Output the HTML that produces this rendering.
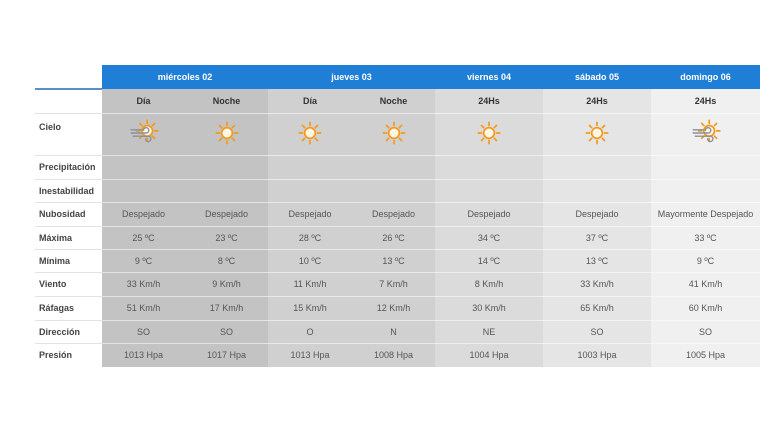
<!DOCTYPE html>
<html><head><meta charset="utf-8"><style>
body{margin:0;width:770px;height:433px;background:#fff;position:relative;overflow:hidden;font-family:"Liberation Sans","DejaVu Sans",sans-serif}
table{position:absolute;left:35px;top:65px;border-collapse:collapse;table-layout:fixed}
td{padding:0;text-align:center;font-size:9px;color:#555;border-bottom:1px solid rgba(255,255,255,.55)}
td.l{text-align:left;padding-left:4px;font-weight:bold;color:#444;background:#fff;border-bottom:1px solid #e2e2e2;font-size:9px}
tr.h td{background:#1f7fd6;color:#fff;font-weight:bold;font-size:9px;border:none}
tr.h td.e{background:#fff;border-bottom:2px solid #5b8fc7}
tr.s td{font-weight:bold;color:#333}
.a{background:#c3c3c3}.b{background:#d0d0d0}.c{background:#dbdbdb}.d{background:#e5e5e5}.f{background:#f0f0f0}
</style></head><body>
<svg width="0" height="0" style="position:absolute"><defs>
<g id="sun"><g stroke="#f39a1e" stroke-width="1.6" stroke-linecap="round"><line x1="0" y1="-10" x2="0" y2="-7"/><line x1="0" y1="10" x2="0" y2="7"/><line x1="-10" y1="0" x2="-7" y2="0"/><line x1="10" y1="0" x2="7" y2="0"/><line x1="-7" y1="-7" x2="-5" y2="-5"/><line x1="7" y1="7" x2="5" y2="5"/><line x1="-7" y1="7" x2="-5" y2="5"/><line x1="7" y1="-7" x2="5" y2="-5"/></g><circle r="5" fill="#fff6e6" stroke="#f39a1e" stroke-width="1.6"/></g>
<g id="wind"><use href="#sun" transform="translate(3,-2)"/><g stroke="#8a8f99" stroke-width="1.3" fill="none" stroke-linecap="round"><path d="M-12 0 H2 a2.5 2.5 0 1 0 -2.5 -2.5"/><path d="M-10 3 H4 a2.5 2.5 0 1 1 -2.5 2.5"/><path d="M-12 -3 H-2"/></g></g>
</defs></svg>
<table>
<colgroup><col style="width:67px"><col style="width:83px"><col style="width:83px"><col style="width:84px"><col style="width:83px"><col style="width:108px"><col style="width:108px"><col style="width:109px"></colgroup>
<tr class="h" style="height:24px"><td class="e"></td><td colspan="2">miércoles 02</td><td colspan="2">jueves 03</td><td>viernes 04</td><td>sábado 05</td><td>domingo 06</td></tr>
<tr class="s" style="height:24px"><td class="l"></td><td class="a">Día</td><td class="a">Noche</td><td class="b">Día</td><td class="b">Noche</td><td class="c">24Hs</td><td class="d">24Hs</td><td class="f">24Hs</td></tr>
<tr style="height:42px"><td class="l" style="vertical-align:top;padding-top:8px">Cielo</td>
<td class="a"><svg width="32" height="28" viewBox="-15 -13 30 26"><use href="#wind"/></svg></td>
<td class="a"><svg width="32" height="28" viewBox="-15 -13 30 26"><use href="#sun"/></svg></td>
<td class="b"><svg width="32" height="28" viewBox="-15 -13 30 26"><use href="#sun"/></svg></td>
<td class="b"><svg width="32" height="28" viewBox="-15 -13 30 26"><use href="#sun"/></svg></td>
<td class="c"><svg width="32" height="28" viewBox="-15 -13 30 26"><use href="#sun"/></svg></td>
<td class="d"><svg width="32" height="28" viewBox="-15 -13 30 26"><use href="#sun"/></svg></td>
<td class="f"><svg width="32" height="28" viewBox="-15 -13 30 26"><use href="#wind"/></svg></td></tr>
<tr style="height:24px"><td class="l">Precipitación</td><td class="a"></td><td class="a"></td><td class="b"></td><td class="b"></td><td class="c"></td><td class="d"></td><td class="f"></td></tr>
<tr style="height:23px"><td class="l">Inestabilidad</td><td class="a"></td><td class="a"></td><td class="b"></td><td class="b"></td><td class="c"></td><td class="d"></td><td class="f"></td></tr>
<tr style="height:24px"><td class="l">Nubosidad</td><td class="a">Despejado</td><td class="a">Despejado</td><td class="b">Despejado</td><td class="b">Despejado</td><td class="c">Despejado</td><td class="d">Despejado</td><td class="f">Mayormente Despejado</td></tr>
<tr style="height:23px"><td class="l">Máxima</td><td class="a">25 ºC</td><td class="a">23 ºC</td><td class="b">28 ºC</td><td class="b">26 ºC</td><td class="c">34 ºC</td><td class="d">37 ºC</td><td class="f">33 ºC</td></tr>
<tr style="height:23px"><td class="l">Mínima</td><td class="a">9 ºC</td><td class="a">8 ºC</td><td class="b">10 ºC</td><td class="b">13 ºC</td><td class="c">14 ºC</td><td class="d">13 ºC</td><td class="f">9 ºC</td></tr>
<tr style="height:24px"><td class="l">Viento</td><td class="a">33 Km/h</td><td class="a">9 Km/h</td><td class="b">11 Km/h</td><td class="b">7 Km/h</td><td class="c">8 Km/h</td><td class="d">33 Km/h</td><td class="f">41 Km/h</td></tr>
<tr style="height:24px"><td class="l">Ráfagas</td><td class="a">51 Km/h</td><td class="a">17 Km/h</td><td class="b">15 Km/h</td><td class="b">12 Km/h</td><td class="c">30 Km/h</td><td class="d">65 Km/h</td><td class="f">60 Km/h</td></tr>
<tr style="height:23px"><td class="l">Dirección</td><td class="a">SO</td><td class="a">SO</td><td class="b">O</td><td class="b">N</td><td class="c">NE</td><td class="d">SO</td><td class="f">SO</td></tr>
<tr style="height:24px"><td class="l" style="border-bottom:none">Presión</td><td class="a">1013 Hpa</td><td class="a">1017 Hpa</td><td class="b">1013 Hpa</td><td class="b">1008 Hpa</td><td class="c">1004 Hpa</td><td class="d">1003 Hpa</td><td class="f">1005 Hpa</td></tr>
</table>
</body></html>
